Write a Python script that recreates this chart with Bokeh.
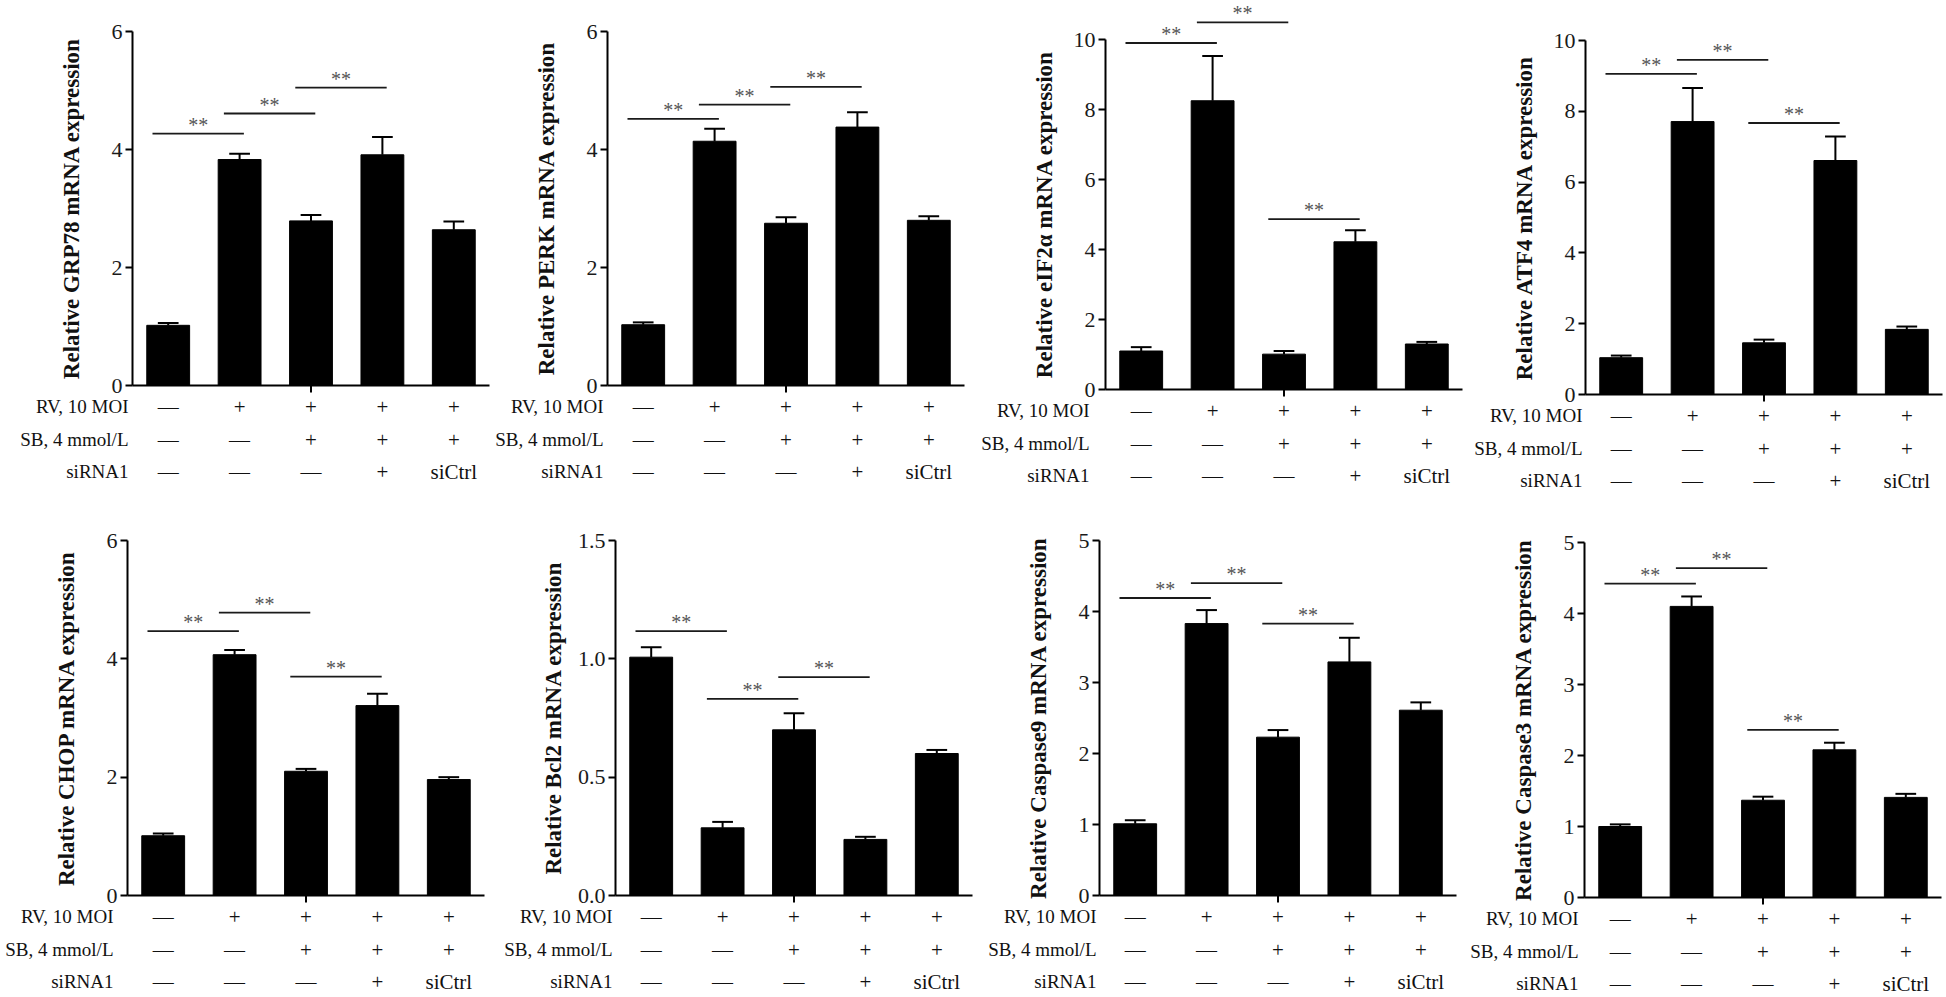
from bokeh.plotting import figure
from bokeh.models import Range1d, FixedTicker, ColumnDataSource, LabelSet, Label, PrintfTickFormatter
from bokeh.layouts import column, row
from bokeh.core.properties import value
from bokeh.embed import file_html
from bokeh.resources import INLINE

# ---------------- data ----------------
groups = [0, 1, 2, 3, 4]
row_names = ["RV, 10 MOI", "SB, 4 mmol/L", "siRNA1"]
rv_row = ["\u2014", "+", "+", "+", "+"]
sb_row = ["\u2014", "\u2014", "+", "+", "+"]
si_row = ["\u2014", "\u2014", "\u2014", "+", "siCtrl"]

grp78_mean = [1.02, 3.83, 2.79, 3.91, 2.64]
grp78_err = [0.04, 0.10, 0.10, 0.30, 0.14]
grp78_sig_from = [0, 1, 2]
grp78_sig_to = [1, 2, 3]
grp78_sig_y = [4.27, 4.61, 5.05]

perk_mean = [1.03, 4.14, 2.75, 4.38, 2.80]
perk_err = [0.04, 0.21, 0.10, 0.25, 0.07]
perk_sig_from = [0, 1, 2]
perk_sig_to = [1, 2, 3]
perk_sig_y = [4.52, 4.76, 5.06]

eif_mean = [1.10, 8.25, 1.01, 4.22, 1.30]
eif_err = [0.11, 1.28, 0.09, 0.33, 0.06]
eif_sig_from = [0, 1, 2]
eif_sig_to = [1, 2, 3]
eif_sig_y = [9.90, 10.49, 4.87]

atf4_mean = [1.04, 7.71, 1.46, 6.61, 1.84]
atf4_err = [0.06, 0.95, 0.09, 0.68, 0.08]
atf4_sig_from = [0, 1, 2]
atf4_sig_to = [1, 2, 3]
atf4_sig_y = [9.06, 9.45, 7.67]

chop_mean = [1.01, 4.07, 2.10, 3.21, 1.96]
chop_err = [0.04, 0.08, 0.04, 0.20, 0.04]
chop_sig_from = [0, 1, 2]
chop_sig_to = [1, 2, 3]
chop_sig_y = [4.47, 4.78, 3.70]

bcl2_mean = [1.007, 0.286, 0.70, 0.237, 0.60]
bcl2_err = [0.042, 0.025, 0.07, 0.011, 0.015]
bcl2_sig_from = [0, 1, 2]
bcl2_sig_to = [1, 2, 3]
bcl2_sig_y = [1.117, 0.831, 0.923]

casp9_mean = [1.01, 3.83, 2.23, 3.29, 2.61]
casp9_err = [0.05, 0.19, 0.10, 0.34, 0.11]
casp9_sig_from = [0, 1, 2]
casp9_sig_to = [1, 2, 3]
casp9_sig_y = [4.19, 4.40, 3.83]

casp3_mean = [1.00, 4.10, 1.37, 2.08, 1.41]
casp3_err = [0.03, 0.14, 0.05, 0.10, 0.05]
casp3_sig_from = [0, 1, 2]
casp3_sig_to = [1, 2, 3]
casp3_sig_y = [4.42, 4.64, 2.36]

ticks_6 = [0, 2, 4, 6]
ticks_10 = [0, 2, 4, 6, 8, 10]
ticks_15 = [0, 0.5, 1.0, 1.5]
ticks_5 = [0, 1, 2, 3, 4, 5]

FONT = "Liberation Serif"
FRAME_W = 357
ROW_OFFSETS = [21, 54, 86]


def make_panel(gene, mean, err, s_from, s_to, s_y, ymax, yticks, lay, tick_fmt=None):
    ppx = FRAME_W / 5.0
    ppu = lay["fh"] / ymax  # pixels per data unit
    W = lay["l"] + FRAME_W + lay["r"]
    H = lay["t"] + lay["fh"] + lay["b"]
    p = figure(frame_width=W, frame_height=H,
               x_range=Range1d(-0.5 - lay["l"] / ppx, 4.5 + lay["r"] / ppx),
               y_range=Range1d(-lay["b"] / ppu, ymax + lay["t"] / ppu),
               output_backend="svg", toolbar_location=None,
               min_border_left=0, min_border_right=0,
               min_border_top=0, min_border_bottom=0)
    p.outline_line_color = None
    p.grid.visible = False
    p.background_fill_color = "white"
    p.border_fill_color = "white"

    ya = p.yaxis[0]
    ya.fixed_location = -0.5
    ya.ticker = FixedTicker(ticks=yticks)
    if tick_fmt is not None:
        ya.formatter = PrintfTickFormatter(format=tick_fmt)
    ya.bounds = (0, ymax)
    ya.axis_label = "Relative " + gene + " mRNA expression"
    ya.axis_label_text_font = FONT
    ya.axis_label_text_font_style = "bold"
    ya.axis_label_text_font_size = "23px"
    ya.axis_label_text_color = "#111111"
    ya.axis_label_standoff = lay["als"]
    ya.major_label_text_font = FONT
    ya.major_label_text_font_size = "22px"
    ya.major_label_text_color = "#1a1a1a"
    ya.major_label_standoff = 3
    ya.axis_line_width = 2
    ya.major_tick_line_width = 2
    ya.major_tick_out = 7
    ya.major_tick_in = 0
    ya.minor_tick_line_color = None

    xa = p.xaxis[0]
    xa.fixed_location = 0
    xa.bounds = (-0.5, 4.5)
    xa.ticker = FixedTicker(ticks=[])
    xa.axis_line_width = 2
    xa.major_tick_line_color = None
    xa.minor_tick_line_color = None

    # small tick under the middle group (as in the original)
    p.segment(x0=[2], y0=[0], x1=[2], y1=[-7.0 / ppu], line_color="black", line_width=2)

    # bars
    p.vbar(x=groups, top=mean, width=0.6, fill_color="black", line_color="black", line_width=1)
    # error bars (upper)
    tops = [m + e for m, e in zip(mean, err)]
    p.segment(x0=groups, y0=mean, x1=groups, y1=tops, line_color="black", line_width=2)
    p.segment(x0=[g - 0.145 for g in groups], y0=tops, x1=[g + 0.145 for g in groups], y1=tops,
              line_color="black", line_width=2)

    # significance brackets
    bx0 = [a - 0.22 for a in s_from]
    bx1 = [b + 0.06 for b in s_to]
    p.segment(x0=bx0, y0=s_y, x1=bx1, y1=s_y, line_color="#1a1a1a", line_width=1.8)
    star_src = ColumnDataSource(dict(x=[(a + b) / 2 for a, b in zip(bx0, bx1)],
                                     y=[v + 2.0 / ppu for v in s_y],
                                     t=["**"] * len(s_y)))
    p.add_layout(LabelSet(x="x", y="y", text="t", source=star_src, text_align="center",
                          text_baseline="alphabetic", text_font=value(FONT),
                          text_font_size=value("20px"), text_color="#555555"))

    # condition table below the axis
    tx, ty, tt = [], [], []
    for r_i, vals in enumerate([rv_row, sb_row, si_row]):
        for g, v in zip(groups, vals):
            tx.append(g)
            ty.append(-ROW_OFFSETS[r_i] / ppu)
            tt.append(v)
    tab_src = ColumnDataSource(dict(x=tx, y=ty, t=tt))
    p.add_layout(LabelSet(x="x", y="y", text="t", source=tab_src, text_align="center",
                          text_baseline="middle", text_font=value(FONT),
                          text_font_size=value("21px"), text_color="#111111"))
    for r_i, name in enumerate(row_names):
        p.add_layout(Label(x=-0.5, y=-ROW_OFFSETS[r_i] / ppu, x_offset=-lay["gap"], text=name,
                           text_align="right", text_baseline="middle", text_font=FONT,
                           text_font_size="19px", text_color="#111111"))
    return p


# layout (pixels): left/right/top/bottom margins around the plotting area
L1 = dict(l=132, r=1, t=31, b=112, fh=354, als=25, gap=4)
L2 = dict(l=117, r=2, t=31, b=112, fh=354, als=25, gap=4)
L3 = dict(l=139, r=2, t=39, b=108, fh=350, als=14, gap=16)
L4 = dict(l=121, r=3, t=40, b=103, fh=354, als=14, gap=3)
L5 = dict(l=127, r=3, t=43, b=101, fh=355, als=25, gap=14)
L6 = dict(l=128, r=3, t=43, b=101, fh=355, als=9, gap=3)
L7 = dict(l=124, r=3, t=43, b=101, fh=355, als=25, gap=3)
L8 = dict(l=125, r=3, t=45, b=99, fh=355, als=25, gap=6)

p1 = make_panel("GRP78", grp78_mean, grp78_err, grp78_sig_from, grp78_sig_to, grp78_sig_y, 6, ticks_6, L1)
p2 = make_panel("PERK", perk_mean, perk_err, perk_sig_from, perk_sig_to, perk_sig_y, 6, ticks_6, L2)
p3 = make_panel("eIF2\u03b1", eif_mean, eif_err, eif_sig_from, eif_sig_to, eif_sig_y, 10, ticks_10, L3)
p4 = make_panel("ATF4", atf4_mean, atf4_err, atf4_sig_from, atf4_sig_to, atf4_sig_y, 10, ticks_10, L4)
p5 = make_panel("CHOP", chop_mean, chop_err, chop_sig_from, chop_sig_to, chop_sig_y, 6, ticks_6, L5)
p6 = make_panel("Bcl2", bcl2_mean, bcl2_err, bcl2_sig_from, bcl2_sig_to, bcl2_sig_y, 1.5, ticks_15, L6,
                tick_fmt="%.1f")
p7 = make_panel("Caspase9", casp9_mean, casp9_err, casp9_sig_from, casp9_sig_to, casp9_sig_y, 5, ticks_5, L7)
p8 = make_panel("Caspase3", casp3_mean, casp3_err, casp3_sig_from, casp3_sig_to, casp3_sig_y, 5, ticks_5, L8)

layout = column(row(p1, p2, p3, p4), row(p5, p6, p7, p8))

open("out.html", "w").write(file_html(layout, INLINE))
